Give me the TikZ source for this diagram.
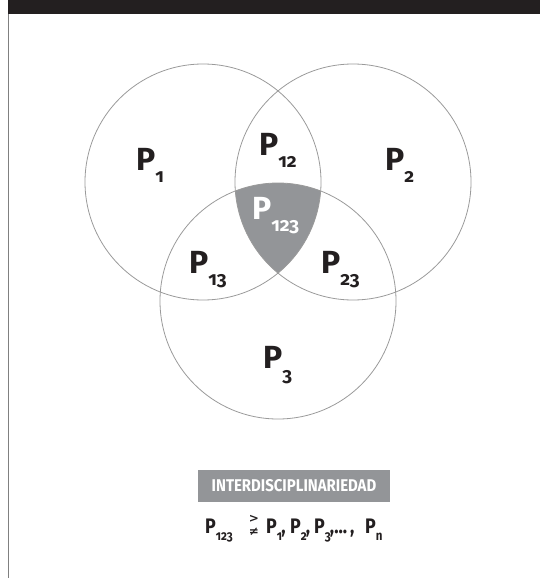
\documentclass[tikz,border=0pt]{standalone}
\usepackage{fontspec}
\usepackage{graphicx}
\setmainfont{Fira Sans}[Numbers=OldStyle]
\newfontfamily\symfont{DejaVu Sans}
\definecolor{inkblack}{HTML}{231F20}
\definecolor{shadegray}{HTML}{939598}
\definecolor{linegray}{HTML}{9A9A9A}
\newcommand{\psub}[4]{\fontsize{#1}{#1}\selectfont\bfseries P\raisebox{-#3pt}{\fontsize{#2}{#2}\selectfont #4}}
\newcommand{\narrowtxt}[1]{\scalebox{0.85}[1]{#1}}
\tikzset{
  ring/.style={draw=linegray, line width=0.8pt},
  vlabel/.style={anchor=base west, inner sep=0pt, text=inkblack},
  flabel/.style={anchor=base west, inner sep=0pt, text=inkblack},
  symlabel/.style={inner sep=0pt, text=inkblack, font=\symfont\fontsize{12}{12}\selectfont\bfseries},
}
\begin{document}
\begin{tikzpicture}[x=1pt,y=-1pt]
\useasboundingbox (0,0) rectangle (540,578);
% top bar and left rule
\fill[inkblack] (8,0) rectangle (540,14);
\draw[gray, line width=1.3pt] (8.6,14) -- (8.6,578);
% circle centres
\coordinate (c1) at (203,182);
\coordinate (c2) at (353,182);
\coordinate (c3) at (278,301);
% shaded triple intersection
\begin{scope}
  \clip (c1) circle[radius=118pt];
  \clip (c2) circle[radius=118pt];
  \fill[shadegray] (c3) circle[radius=118pt];
\end{scope}
\draw[ring] (c1) circle[radius=118pt];
\draw[ring] (c2) circle[radius=118pt];
\draw[ring] (c3) circle[radius=118pt];
% region labels
\node[vlabel] (p1) at (136,170) {\psub{32}{19}{12.5}{1}};
\node[vlabel] (p12) at (259,155) {\psub{32}{19}{12}{12}};
\node[vlabel] (p2) at (385,170) {\psub{32}{19}{12.5}{2}};
\node[vlabel, text=white] (p123) at (252,219) {\psub{32}{19}{12}{123}};
\node[vlabel] (p13) at (189,273) {\psub{32}{19}{12.5}{13}};
\node[vlabel] (p23) at (321,273) {\psub{32}{19}{12.5}{23}};
\node[vlabel] (p3) at (263,368) {\psub{32}{19}{13}{3}};
% label bar
\fill[shadegray] (198,470) rectangle (390,502);
\node[text=white, inner sep=0pt, font=\fontsize{17}{17}\selectfont\bfseries] (inter) at (294,486) {\scalebox{0.88}[1]{INTERDISCIPLINARIEDAD}};
% formula
\node[flabel] (f1) at (205,533) {\narrowtxt{\psub{21}{13.5}{7.5}{123}}};
\node[symlabel] (fgt) at (254,518.5) {>};
\node[symlabel] (fne) at (254,531.5) {≠};
\node[flabel] (f2) at (266,533) {\narrowtxt{\psub{21}{13.5}{7.5}{1}\kern-1pt,}};
\node[flabel] (f3) at (290,533) {\narrowtxt{\psub{21}{13.5}{7.5}{2}\kern-1pt,}};
\node[flabel] (f4) at (314,533) {\narrowtxt{\psub{21}{13.5}{7.5}{3}\kern-1pt,...\,,}};
\node[flabel] (f5) at (365,533) {\narrowtxt{\psub{21}{13.5}{7.5}{n}}};
\end{tikzpicture}
\end{document}
